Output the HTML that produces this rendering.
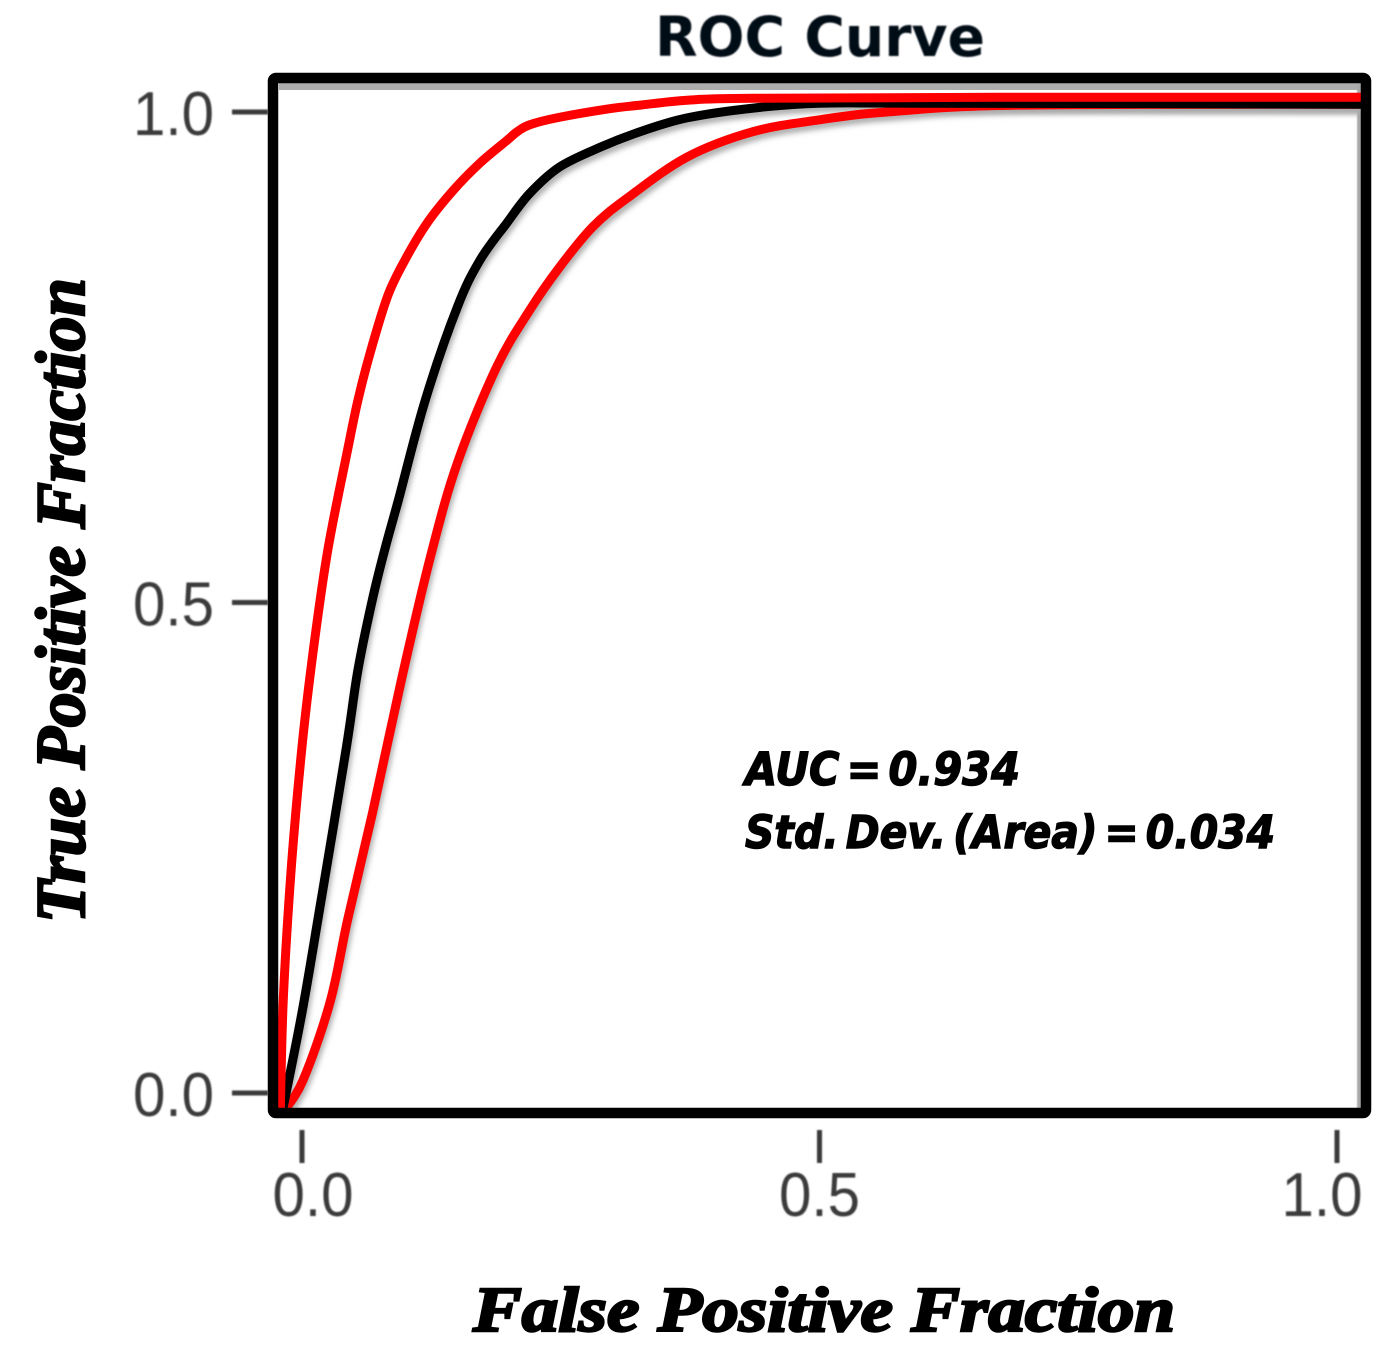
<!DOCTYPE html>
<html>
<head>
<meta charset="utf-8">
<style>
html,body{margin:0;padding:0;background:#fff;}
svg{display:block;}
text{font-family:"Liberation Sans",sans-serif;}
</style>
</head>
<body>
<svg id="chart" xmlns="http://www.w3.org/2000/svg" width="1386" height="1364" viewBox="0 0 1386 1364">
  <defs>
    <filter id="soft" x="-5%" y="-5%" width="110%" height="110%"><feGaussianBlur stdDeviation="0.8"/></filter>
    <filter id="shade" x="-5%" y="-5%" width="110%" height="110%"><feGaussianBlur stdDeviation="3"/></filter>
    <clipPath id="plot-clip"><rect x="273" y="78" width="1088" height="1035"/></clipPath>
  </defs>
  <rect width="1386" height="1364" fill="#fff"/>
  <rect x="279" y="82" width="1080" height="8" fill="#adadad"/>
  <rect x="1357" y="82" width="5" height="1030" fill="#a8a8a8" filter="url(#soft)"/>
  <g id="series" clip-path="url(#plot-clip)"></g>
  <rect x="273" y="78" width="1093" height="1035" rx="3" fill="none" stroke="#000" stroke-width="10.5"/>
  <g id="ticks" filter="url(#soft)"></g>
  <text x="655" y="56" textLength="330" lengthAdjust="spacingAndGlyphs" font-size="55" font-weight="700" fill="#050a14" filter="url(#soft)" style="font-family:'DejaVu Sans',sans-serif">ROC Curve</text>
  <text x="473" y="1331" textLength="702" lengthAdjust="spacingAndGlyphs" font-size="64" font-weight="700" font-style="italic" fill="#000" stroke="#000" stroke-width="2.5" style="font-family:'Liberation Serif',serif">False Positive Fraction</text>
  <text transform="translate(84,923) rotate(-90)" x="0" y="0" textLength="645" lengthAdjust="spacingAndGlyphs" font-size="70" font-weight="700" font-style="italic" fill="#000" stroke="#000" stroke-width="2.5" style="font-family:'Liberation Serif',serif">True Positive Fraction</text>
  <text x="745" y="785" textLength="275" lengthAdjust="spacingAndGlyphs" font-size="45" font-weight="700" font-style="italic" fill="#000" stroke="#000" stroke-width="1.4" style="font-family:'DejaVu Sans',sans-serif;word-spacing:-8px">AUC = 0.934</text>
  <text x="745" y="848" textLength="530" lengthAdjust="spacingAndGlyphs" font-size="45" font-weight="700" font-style="italic" fill="#000" stroke="#000" stroke-width="1.4" style="font-family:'DejaVu Sans',sans-serif;word-spacing:-8px">Std. Dev. (Area) = 0.034</text>
</svg>
<script>
const xTicks = [0, 0.5, 1];
const yTicks = [0, 0.5, 1];
const tickLabels = ["0.0", "0.5", "1.0"];

const upperX = [-0.021,-0.018,-0.010,0.000,0.011,0.025,0.044,0.054,0.066,0.083,0.101,0.121,0.146,0.172,0.198,0.208,0.220,0.246,0.295,0.327,0.372,0.436,0.674,1.024];
const upperY = [-0.019,0.098,0.234,0.353,0.452,0.554,0.655,0.706,0.755,0.813,0.852,0.887,0.920,0.948,0.971,0.980,0.987,0.994,1.003,1.007,1.012,1.014,1.015,1.015];

const meanX = [-0.019,0.000,0.019,0.043,0.054,0.068,0.080,0.093,0.119,0.150,0.172,0.198,0.220,0.249,0.288,0.327,0.372,0.436,0.500,0.597,1.024];
const meanY = [-0.019,0.082,0.200,0.353,0.431,0.503,0.554,0.604,0.706,0.801,0.849,0.887,0.917,0.944,0.964,0.980,0.994,1.004,1.009,1.009,1.008];

const lowerX = [-0.018,0.001,0.027,0.044,0.068,0.096,0.124,0.150,0.188,0.220,0.249,0.281,0.314,0.372,0.436,0.500,0.565,0.694,1.024];
const lowerY = [-0.019,0.013,0.092,0.176,0.285,0.421,0.546,0.642,0.740,0.798,0.842,0.883,0.912,0.954,0.980,0.992,1.000,1.007,1.008];

const NS = "http://www.w3.org/2000/svg";
function xScale(v){ return 302 + v * 1035; }
function yScale(v){ return 1093 - v * 981; }

function smoothPath(xs, ys){
  const p = xs.map((x,i)=>[xScale(x), yScale(ys[i])]);
  let d = "M" + p[0][0].toFixed(1) + " " + p[0][1].toFixed(1);
  for(let i=0;i<p.length-1;i++){
    const a=p[Math.max(i-1,0)], b=p[i], c=p[i+1], e=p[Math.min(i+2,p.length-1)];
    const c1x=b[0]+(c[0]-a[0])/6, c1y=b[1]+(c[1]-a[1])/6;
    const c2x=c[0]-(e[0]-b[0])/6, c2y=c[1]-(e[1]-b[1])/6;
    d += " C"+c1x.toFixed(1)+" "+c1y.toFixed(1)+" "+c2x.toFixed(1)+" "+c2y.toFixed(1)+" "+c[0].toFixed(1)+" "+c[1].toFixed(1);
  }
  return d;
}

const seriesGroup = document.getElementById("series");

const shadowLower = document.createElementNS(NS,"path");


shadowLower.setAttribute("d", smoothPath(lowerX, lowerY));
shadowLower.setAttribute("transform", "translate(2,5)");
shadowLower.setAttribute("fill", "none");
shadowLower.setAttribute("stroke", "#aaa");
shadowLower.setAttribute("stroke-width", "8");
shadowLower.setAttribute("filter", "url(#shade)");
seriesGroup.appendChild(shadowLower);

const shadowMean = document.createElementNS(NS,"path");


shadowMean.setAttribute("d", smoothPath(meanX, meanY));
shadowMean.setAttribute("transform", "translate(2,5)");
shadowMean.setAttribute("fill", "none");
shadowMean.setAttribute("stroke", "#aaa");
shadowMean.setAttribute("stroke-width", "8");
shadowMean.setAttribute("filter", "url(#shade)");
seriesGroup.appendChild(shadowMean);

const lowerLine = document.createElementNS(NS,"path");


lowerLine.setAttribute("d", smoothPath(lowerX, lowerY));
lowerLine.setAttribute("fill", "none");
lowerLine.setAttribute("stroke", "#f00");
lowerLine.setAttribute("stroke-width", "9");
lowerLine.setAttribute("stroke-linejoin", "round");
seriesGroup.appendChild(lowerLine);

const meanLine = document.createElementNS(NS,"path");


meanLine.setAttribute("d", smoothPath(meanX, meanY));
meanLine.setAttribute("fill", "none");
meanLine.setAttribute("stroke", "#000");
meanLine.setAttribute("stroke-width", "9");
meanLine.setAttribute("stroke-linejoin", "round");
seriesGroup.appendChild(meanLine);

const upperLine = document.createElementNS(NS,"path");


upperLine.setAttribute("d", smoothPath(upperX, upperY));
upperLine.setAttribute("fill", "none");
upperLine.setAttribute("stroke", "#f00");
upperLine.setAttribute("stroke-width", "9");
upperLine.setAttribute("stroke-linejoin", "round");
seriesGroup.appendChild(upperLine);

const ticksGroup = document.getElementById("ticks");
xTicks.forEach((v,i)=>{
  const t = document.createElementNS(NS,"line");
  
  
  t.setAttribute("x1", xScale(v)); t.setAttribute("x2", xScale(v));
  t.setAttribute("y1", 1130); t.setAttribute("y2", 1163);
  t.setAttribute("stroke", "#3a3a3a"); t.setAttribute("stroke-width", "5");
  ticksGroup.appendChild(t);
  const l = document.createElementNS(NS,"text");
  
  
  l.setAttribute("x", xScale(v) + (i===0 ? 11 : (i===1 ? 0 : -15)));
  l.setAttribute("y", 1216);
  l.setAttribute("text-anchor", "middle");
  l.setAttribute("font-size", "62");
  l.setAttribute("textLength", "81");
  l.setAttribute("lengthAdjust", "spacingAndGlyphs");
  l.setAttribute("fill", "#3a3a3a");
  l.textContent = tickLabels[i];
  ticksGroup.appendChild(l);
});
yTicks.forEach((v,i)=>{
  const t = document.createElementNS(NS,"line");
  
  
  t.setAttribute("x1", 232); t.setAttribute("x2", 268);
  t.setAttribute("y1", yScale(v)); t.setAttribute("y2", yScale(v));
  t.setAttribute("stroke", "#3a3a3a"); t.setAttribute("stroke-width", "5");
  ticksGroup.appendChild(t);
  const l = document.createElementNS(NS,"text");
  
  
  l.setAttribute("x", 133);
  l.setAttribute("y", yScale(v) + 23);
  l.setAttribute("font-size", "62");
  l.setAttribute("textLength", "81");
  l.setAttribute("lengthAdjust", "spacingAndGlyphs");
  l.setAttribute("fill", "#3a3a3a");
  l.textContent = tickLabels[i];
  ticksGroup.appendChild(l);
});
</script>
</body>
</html>
